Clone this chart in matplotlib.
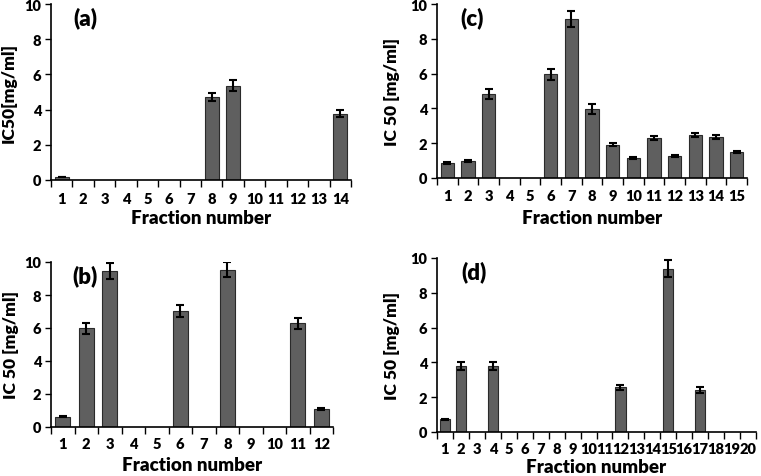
import matplotlib
matplotlib.use("Agg")
import matplotlib.pyplot as plt
import numpy as np

plt.rcParams['font.family'] = ['Lato', 'DejaVu Sans']
plt.rcParams['font.weight'] = 'heavy'

# Panel (a)
a_fracs = [str(i) for i in range(1, 15)]
a_vals = [0.17, 0, 0, 0, 0, 0, 0, 4.73, 5.36, 0, 0, 0, 0, 3.77]
a_errs = [0, 0, 0, 0, 0, 0, 0, 0.22, 0.30, 0, 0, 0, 0, 0.20]

# Panel (b)
b_fracs = [str(i) for i in range(1, 13)]
b_vals = [0.63, 5.97, 9.46, 0, 0, 7.02, 0, 9.54, 0, 0, 6.29, 1.11]
b_errs = [0.05, 0.35, 0.48, 0, 0, 0.35, 0, 0.45, 0, 0, 0.33, 0.05]

# Panel (c)
c_fracs = [str(i) for i in range(1, 16)]
c_vals = [0.86, 0.98, 4.83, 0, 0, 5.96, 9.14, 3.98, 1.92, 1.15, 2.32, 1.25, 2.45, 2.38, 1.49]
c_errs = [0.05, 0.05, 0.27, 0, 0, 0.30, 0.46, 0.28, 0.10, 0.05, 0.12, 0.07, 0.12, 0.12, 0.07]

# Panel (d)
d_fracs = [str(i) for i in range(1, 21)]
d_vals = [0.73, 3.79, 0, 3.79, 0, 0, 0, 0, 0, 0, 0, 2.56, 0, 0, 9.38, 0, 2.44, 0, 0, 0]
d_errs = [0.03, 0.25, 0, 0.25, 0, 0, 0, 0, 0, 0, 0, 0.16, 0, 0, 0.48, 0, 0.17, 0, 0, 0]

W, H = 761, 477
fig = plt.figure(figsize=(W / 100, H / 100), dpi=100)


def panel(rect_px, fracs, vals, errs, label, ylabel, tick_pad, xlab_off, ylab_x, tsize):
    l, r, b, t = rect_px
    wpx, hpx = r - l, b - t
    ax = fig.add_axes([l / W, 1 - b / H, wpx / W, hpx / H])
    n = len(fracs)
    x = np.arange(1, n + 1)
    vals = np.array(vals, dtype=float)
    errs = np.array(errs, dtype=float)
    m = vals > 0
    ax.bar(x[m], vals[m], width=0.64, color='#5f5f5f', edgecolor='#2a2a2a', linewidth=0.8, zorder=2)
    ax.errorbar(x[m], vals[m], yerr=errs[m], fmt='none', ecolor='black', elinewidth=1.5,
                capsize=3, capthick=1.5, zorder=3)
    ax.set_xlim(0.5, n + 0.5)
    ax.set_ylim(0, 10)
    ax.set_yticks([0, 2, 4, 6, 8, 10])
    ax.set_xticks(np.arange(0.5, n + 1.0, 1.0))
    ax.set_xticklabels([])
    ax.set_xticks(x, minor=True)
    ax.set_xticklabels(fracs, minor=True)
    ax.tick_params(axis='x', which='major', direction='out', length=5, width=1, color='black')
    ax.tick_params(axis='x', which='minor', length=0, labelsize=tsize, pad=tick_pad)
    ax.tick_params(axis='y', direction='out', length=4, width=1, labelsize=10.5, pad=3)
    for lab in ax.get_xticklabels(minor=True) + ax.get_yticklabels():
        lab.set_fontweight('heavy')
    ax.spines['top'].set_visible(False)
    ax.spines['right'].set_visible(False)
    ax.spines['left'].set_linewidth(1.2)
    ax.spines['bottom'].set_linewidth(1.2)
    ax.set_xlabel('Fraction number', fontsize=13.5, fontweight='heavy', va='center')
    ax.xaxis.set_label_coords(0.5, -xlab_off / hpx)
    ax.set_ylabel(ylabel, fontsize=12.5, fontweight='heavy', va='center')
    ax.yaxis.set_label_coords((ylab_x - l) / wpx, 0.5)
    ax.text(0.075, 0.985, label, transform=ax.transAxes, fontsize=16, fontweight='heavy',
            ha='left', va='top')
    return ax


panel((51, 351, 181, 5), a_fracs, a_vals, a_errs, '(a)', 'IC50[mg/ml]', 8.5, 37, 9, 10.5)
panel((437, 747, 179, 5), c_fracs, c_vals, c_errs, '(c)', 'IC 50 [mg/ml]', 8, 39, 392, 10.5)
panel((51, 333, 428, 263), b_fracs, b_vals, b_errs, '(b)', 'IC 50 [mg/ml]', 7.5, 38, 11, 10.5)
panel((437, 756, 433, 259), d_fracs, d_vals, d_errs, '(d)', 'IC 50 [mg/ml]', 7, 35, 392, 10.5)

fig.savefig('out.png', dpi=100)
